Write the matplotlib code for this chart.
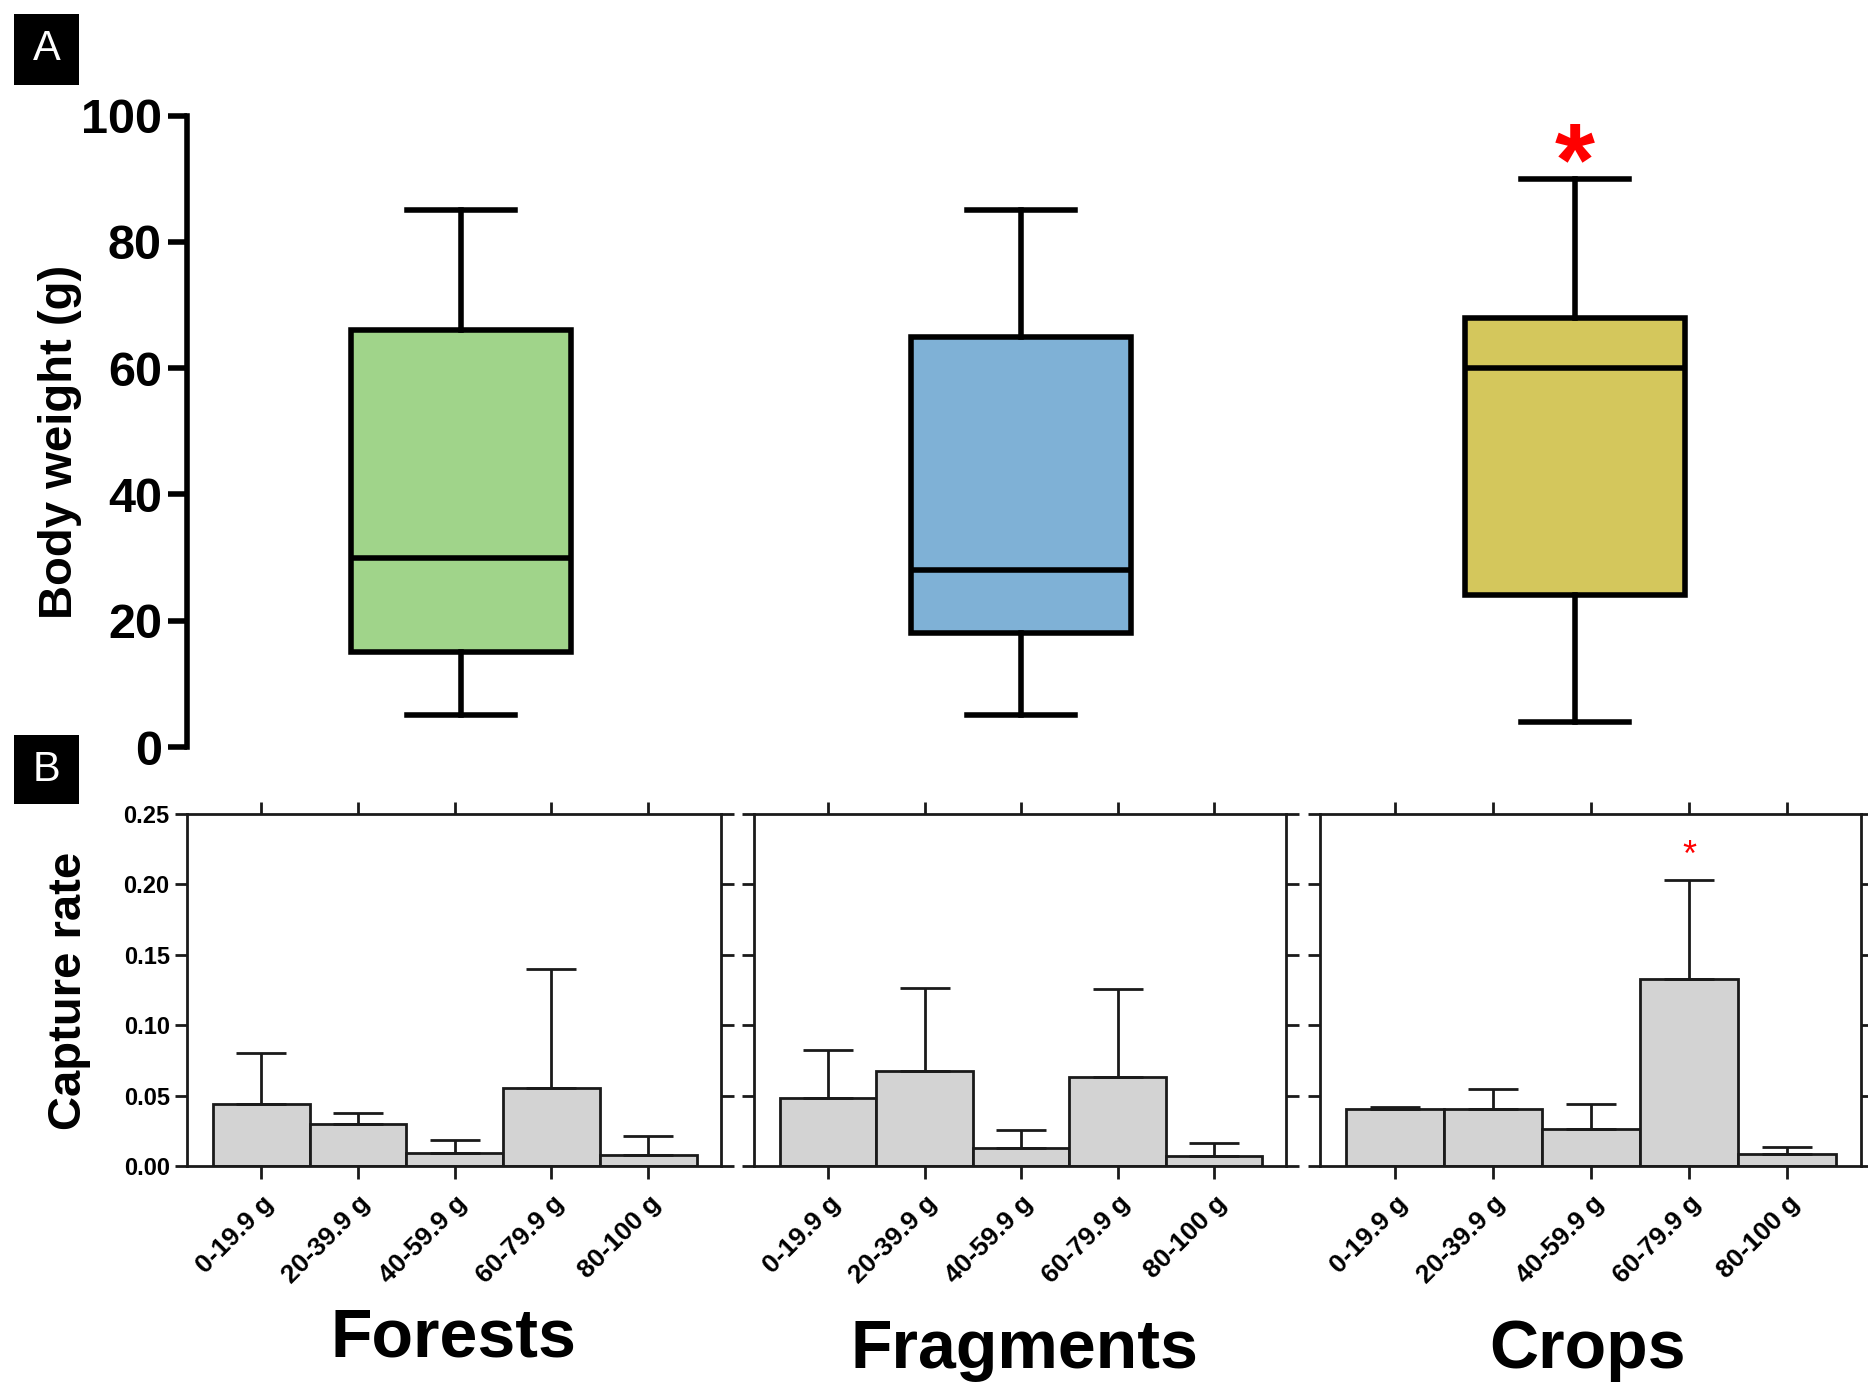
import matplotlib
matplotlib.use("Agg")
import matplotlib.pyplot as plt
import numpy as np
from matplotlib.patches import Rectangle

plt.rcParams['font.family'] = ['Liberation Sans', 'DejaVu Sans']

# ---------------- data ----------------
habitats = ["Forests", "Fragments", "Crops"]
box_colors = ["#A0D48A", "#7FB1D6", "#D4C75C"]

# Panel A: body weight box plots (g)
whisker_low = [5, 5, 4]
q1 = [15, 18, 24]
median = [30, 28, 60]
q3 = [66, 65, 68]
whisker_high = [85, 85, 90]

# Panel B: capture rate by weight class
weight_classes = ["0-19.9 g", "20-39.9 g", "40-59.9 g", "60-79.9 g", "80-100 g"]
rate_forests = [0.044, 0.030, 0.0094, 0.0555, 0.0083]
err_forests = [0.036, 0.008, 0.0096, 0.0845, 0.0132]
rate_fragments = [0.0484, 0.0674, 0.0127, 0.0636, 0.0070]
err_fragments = [0.034, 0.0591, 0.0131, 0.0622, 0.0094]
rate_crops = [0.0404, 0.0408, 0.0268, 0.1326, 0.0087]
err_crops = [0.0016, 0.0141, 0.0173, 0.0704, 0.0047]

yticksA = [0, 20, 40, 60, 80, 100]
yticksB = [0.00, 0.05, 0.10, 0.15, 0.20, 0.25]

# ---------------- figure ----------------
fig = plt.figure(figsize=(18.68, 13.88), dpi=100)

# Panel A
axA = fig.add_axes([0.1001, 0.4618, 0.8999, 0.4549])
stats = []
for i, h in enumerate(habitats):
    stats.append(dict(whislo=whisker_low[i], q1=q1[i], med=median[i], q3=q3[i],
                      whishi=whisker_high[i], fliers=[], label=h))
lwA = 4
bp = axA.bxp(stats, positions=[1, 2.005, 3], widths=0.394, capwidths=0.195,
             patch_artist=True, showfliers=False,
             boxprops=dict(linewidth=lwA, edgecolor='black'),
             medianprops=dict(color='black', linewidth=lwA),
             whiskerprops=dict(color='black', linewidth=lwA),
             capprops=dict(color='black', linewidth=lwA))
for patch, c in zip(bp['boxes'], box_colors):
    patch.set_facecolor(c)
axA.set_xlim(0.508, 3.526)
axA.set_ylim(0, 100)
for s in ['top', 'right', 'bottom']:
    axA.spines[s].set_visible(False)
axA.spines['left'].set_linewidth(lwA)
axA.set_xticks([])
axA.set_yticks(yticksA)
axA.set_yticklabels([str(v) for v in yticksA], fontsize=35, fontweight='bold')
axA.tick_params(axis='y', direction='out', length=14, width=lwA, pad=4)
axA.text(3, 91.6, '*', color='red', fontsize=74, fontweight='bold',
         ha='center', va='center')

fig.text(0.0319, 0.682, 'Body weight (g)', rotation=90, fontsize=34,
         fontweight='bold', ha='center', va='center')

# Panel B
rates = [rate_forests, rate_fragments, rate_crops]
errs = [err_forests, err_fragments, err_crops]
rects = [[0.1001, 0.1597, 0.2857, 0.2541],
         [0.4036, 0.1597, 0.2851, 0.2541],
         [0.7066, 0.1597, 0.2895, 0.2541]]
title_pos = [(0.243, 0.036), (0.5485, 0.0276), (0.850, 0.0276)]
x = np.arange(len(weight_classes))
edge = '#1a1a1a'
lwB = 2
for i in range(3):
    ax = fig.add_axes(rects[i])
    ax.bar(x, rates[i], width=1.0, color='#D3D3D3', edgecolor=edge, linewidth=lwB,
           yerr=[np.zeros(len(x)), errs[i]], capsize=18,
           error_kw=dict(elinewidth=lwB, capthick=lwB, ecolor=edge))
    ax.set_xlim(-0.77, 4.75)
    ax.set_ylim(0, 0.25)
    for s in ax.spines.values():
        s.set_linewidth(lwB)
        s.set_color(edge)
    ax.set_xticks(x)
    ax.set_xticklabels(weight_classes, rotation=45, ha='right',
                       rotation_mode='anchor', fontsize=19, fontweight='bold')
    ax.set_yticks(yticksB)
    ax.set_yticklabels(['%.2f' % v for v in yticksB], fontsize=17, fontweight='bold')
    ax.tick_params(axis='both', direction='out', length=9, width=lwB, color=edge)
    ax.tick_params(axis='x', top=True, pad=9)
    ax.tick_params(axis='y', right=True)
    if i > 0:
        ax.tick_params(axis='y', labelleft=False)
    fig.text(title_pos[i][0], title_pos[i][1], habitats[i], fontsize=49,
             fontweight='bold', ha='center', va='center')
    if i == 2:
        ax.text(3, 0.2195, '*', color='red', fontsize=26, ha='center', va='center')

fig.text(0.037, 0.286, 'Capture rate', rotation=90, fontsize=34,
         fontweight='bold', ha='center', va='center')

# Panel letters
for (y0, h, lab) in [(0.9388, 0.0511, 'A'), (0.4207, 0.0497, 'B')]:
    fig.patches.append(Rectangle((0.0075, y0), 0.0348, h, transform=fig.transFigure,
                                 facecolor='black', edgecolor='none'))
    fig.text(0.0075 + 0.0174, y0 + h / 2, lab, color='white', fontsize=30,
             ha='center', va='center')

fig.savefig('out.png', dpi=100)
